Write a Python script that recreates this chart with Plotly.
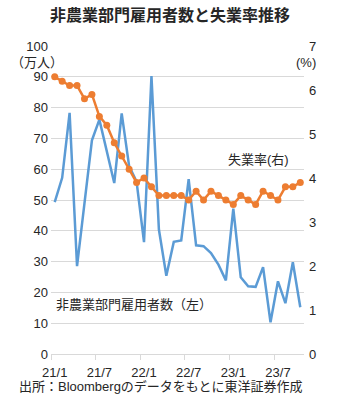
import plotly.graph_objects as go

months = [f"{y}/{m}" for y in (21, 22, 23) for m in range(1, 13)][:34]
payrolls = [49.3, 57.2, 78.3, 28.5, 49.0, 69.4, 76.1, 65.8, 55.5, 78.1, 61.0, 56.0,
            36.3, 90.2, 40.4, 25.4, 36.4, 36.9, 56.8, 35.3, 35.0, 32.8, 29.0, 23.9,
            47.2, 24.9, 22.0, 21.8, 28.2, 10.3, 23.6, 16.5, 29.8, 15.2]
unemp = [6.3, 6.2, 6.1, 6.1, 5.8, 5.9, 5.4, 5.2, 4.8, 4.5, 4.2, 3.9,
         4.0, 3.8, 3.6, 3.6, 3.6, 3.6, 3.5, 3.7, 3.5, 3.7, 3.6, 3.5,
         3.4, 3.6, 3.5, 3.4, 3.7, 3.6, 3.5, 3.8, 3.8, 3.9]
tick_labels = ["21/1", "21/7", "22/1", "22/7", "23/1", "23/7"]

xi = list(range(len(months)))
FONT = "Liberation Sans, Arial, Noto Sans CJK JP, sans-serif"
TXT = "#262626"

fig = go.Figure()
fig.add_trace(go.Scatter(x=xi, y=payrolls, mode="lines", name="非農業部門雇用者数（左）",
                         line=dict(color="#5B9BD5", width=2.5), yaxis="y"))
fig.add_trace(go.Scatter(x=xi, y=unemp, mode="lines+markers", name="失業率(右)",
                         line=dict(color="#ED7D31", width=2.5),
                         marker=dict(color="#ED7D31", size=7), yaxis="y2"))

fig.update_layout(
    width=340, height=413,
    margin=dict(l=51, r=36, t=46, b=59),
    plot_bgcolor="white", paper_bgcolor="white",
    showlegend=False,
    font=dict(family=FONT, size=13, color=TXT),
    title=dict(text="<b>非農業部門雇用者数と失業率推移</b>", x=0.5, xref="container",
               y=1 - 15 / 413, yref="container", yanchor="middle", xanchor="center",
               font=dict(size=16, color=TXT, family="Noto Sans CJK JP, sans-serif")),
    xaxis=dict(range=[-0.5, 33.5], tickmode="array", tickvals=[0, 6, 12, 18, 24, 30],
               ticktext=tick_labels, ticks="", showgrid=False, zeroline=False,
               showline=True, linecolor="#d9d9d9", linewidth=1,
               ticklabelstandoff=6,
               tickfont=dict(size=13, color=TXT),
               minor=dict(tickmode="array", tickvals=[-0.5, 5.5, 11.5, 17.5, 23.5, 29.5],
                          ticks="outside", ticklen=5, tickcolor="#d9d9d9", showgrid=False)),
    yaxis=dict(range=[0, 100], dtick=10, showgrid=True, gridcolor="#d9d9d9", gridwidth=1,
               zeroline=False, ticks="", ticklabelstandoff=2,
               tickfont=dict(size=13, color=TXT)),
    yaxis2=dict(range=[0, 7], dtick=1, overlaying="y", side="right", showgrid=False,
                zeroline=False, ticks="", ticklabelstandoff=4,
                tickfont=dict(size=13, color=TXT)),
)

ann = [
    dict(text="（万人）", x=0.056, y=0.946, xanchor="right", yanchor="middle"),
    dict(text="(%)", x=0.960, y=0.946, xanchor="left", yanchor="middle"),
    dict(text="失業率(右)", x=0.692, y=0.633, xanchor="left", yanchor="middle"),
    dict(text="非農業部門雇用者数（左）", x=0.013, y=0.162, xanchor="left", yanchor="middle"),
    dict(text="出所：Bloombergのデータをもとに東洋証券作成", x=-0.134, y=-0.107,
         xanchor="left", yanchor="middle"),
]
for a in ann:
    fig.add_annotation(xref="paper", yref="paper", showarrow=False,
                       font=dict(size=13, color=TXT, family=FONT), **a)

fig.write_html("out.html")
